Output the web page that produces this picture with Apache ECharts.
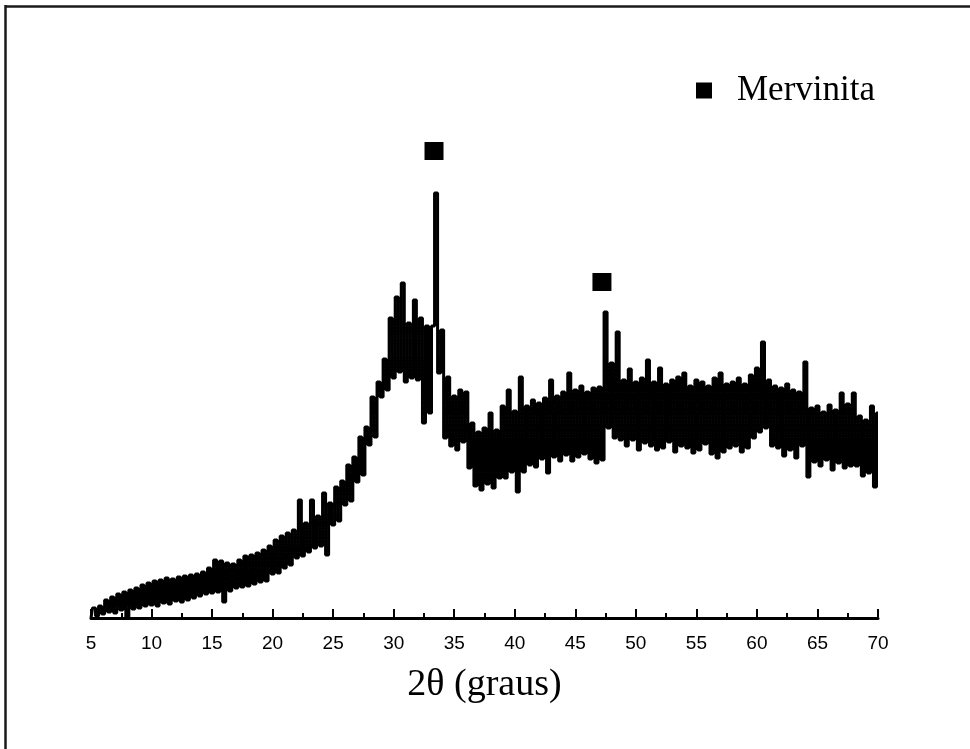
<!DOCTYPE html>
<html>
<head>
<meta charset="utf-8">
<style>
  html, body { margin: 0; padding: 0; background: #fff; }
  #main { width: 970px; height: 749px; }
</style>
<script src="https://cdn.jsdelivr.net/npm/echarts@6/dist/echarts.min.js"></script>
</head>
<body>
<div id="main"></div>
<script>
// 2θ scan: first angle and step (graus)
const angleStart = 5
const angleStep = 0.25
// intensidade, one row per degree (x.00, x.25, x.50, x.75)
const counts = [
  0, 10, 2, 12,        // 5
  4, 18, 6, 21,        // 6
  5, 24, 8, 26,        // 7
  1, 28, 9, 30,        // 8
  10, 33, 12, 35,      // 9
  13, 37, 12, 38,      // 10
  15, 40, 14, 39,      // 11
  17, 41, 16, 42,      // 12
  18, 43, 20, 44,      // 13
  22, 46, 24, 50,      // 14
  25, 58, 26, 57,      // 15
  16, 55, 27, 54,      // 16
  30, 58, 31, 62,      // 17
  32, 63, 34, 65,      // 18
  36, 68, 37, 72,      // 19
  44, 78, 45, 82,      // 20
  50, 85, 53, 88,      // 21
  60, 118, 62, 95,     // 22
  66, 118, 70, 102,    // 23
  72, 125, 63, 115,    // 24
  93, 131, 97, 137,    // 25
  113, 153, 117, 161,  // 26
  136, 181, 143, 191,  // 27
  173, 221, 181, 236,  // 28
  221, 259, 228, 300,  // 29
  240, 321, 246, 335,  // 30
  236, 295, 240, 318,  // 31
  238, 300, 195, 292,  // 32
  205, 292, 425, 245,  // 33
  288, 180, 241, 172,  // 34
  222, 168, 228, 176,  // 35
  226, 150, 195, 132,  // 36
  186, 128, 190, 134,  // 37
  205, 130, 188, 140,  // 38
  212, 140, 228, 146,  // 39
  207, 126, 241, 146,  // 40
  212, 153, 218, 151,  // 41
  215, 159, 220, 145,  // 42
  238, 161, 222, 157,  // 43
  226, 163, 245, 157,  // 44
  228, 161, 232, 164,  // 45
  226, 159, 230, 155,  // 46
  231, 158, 306, 190,  // 47
  255, 180, 286, 178,  // 48
  238, 172, 249, 178,  // 49
  236, 168, 240, 175,  // 50
  258, 172, 236, 168,  // 51
  250, 170, 234, 176,  // 52
  238, 166, 241, 172,  // 53
  245, 170, 232, 165,  // 54
  238, 168, 236, 174,  // 55
  232, 164, 240, 160,  // 56
  245, 166, 234, 170,  // 57
  236, 172, 240, 166,  // 58
  234, 170, 243, 180,  // 59
  250, 186, 276, 190,  // 60
  238, 172, 232, 170,  // 61
  230, 162, 234, 168,  // 62
  228, 160, 226, 172,  // 63
  256, 141, 210, 156,  // 64
  212, 152, 206, 158,  // 65
  213, 148, 208, 155,  // 66
  225, 150, 214, 152,  // 67
  225, 152, 202, 142,  // 68
  198, 145, 212, 131,  // 69
  205                  // 70
]
// mervinita peaks: marker angle and height
const peakAngles = [33.33, 47.2]
const peakMarkY = [467, 336]
const legendName = 'Mervinita'
const axisTitle = '2θ (graus)'

const lineData = counts.map((v, i) => [angleStart + i * angleStep, v])
const markData = peakAngles.map((a, i) => [a, peakMarkY[i]])

const chart = echarts.init(document.getElementById('main'))
chart.setOption({
  backgroundColor: '#fff',
  animation: false,
  grid: { left: 91, right: 92, top: 138, bottom: 131 },
  legend: {
    data: [{ name: legendName, icon: 'rect' }],
    left: 691,
    top: 68,
    itemWidth: 16,
    itemHeight: 16,
    itemGap: 0,
    textStyle: {
      fontFamily: 'Liberation Serif',
      fontSize: 35,
      color: '#000',
      padding: [0, 0, 0, 20]
    }
  },
  xAxis: {
    type: 'value',
    min: 5,
    max: 70,
    interval: 5,
    name: axisTitle,
    nameLocation: 'middle',
    nameGap: 48,
    nameTextStyle: { fontFamily: 'Liberation Serif', fontSize: 38, color: '#000' },
    axisLine: { lineStyle: { color: '#000', width: 3 } },
    axisTick: { inside: true, length: 9, lineStyle: { color: '#000', width: 2 } },
    minorTick: { show: true, splitNumber: 2, length: 5, lineStyle: { color: '#000', width: 2 } },
    axisLabel: { margin: 16, fontFamily: 'Liberation Sans', fontSize: 19, color: '#000' },
    splitLine: { show: false }
  },
  yAxis: {
    type: 'value',
    min: 0,
    max: 480,
    show: false
  },
  series: [
    {
      name: 'difratograma',
      type: 'line',
      step: 'middle',
      data: lineData,
      showSymbol: false,
      lineStyle: { color: '#000', width: 3 },
      z: 2
    },
    {
      name: legendName,
      type: 'scatter',
      symbol: 'rect',
      symbolSize: [19, 18],
      data: markData,
      itemStyle: { color: '#000', opacity: 1 },
      z: 3
    }
  ],
  graphic: [
    { type: 'line', shape: { x1: 5, y1: 6.5, x2: 970, y2: 6.5 }, style: { stroke: '#1a1a1a', lineWidth: 2.5 } },
    { type: 'line', shape: { x1: 5.5, y1: 5, x2: 5.5, y2: 749 }, style: { stroke: '#1a1a1a', lineWidth: 2.5 } }
  ]
})
</script>
</body>
</html>
